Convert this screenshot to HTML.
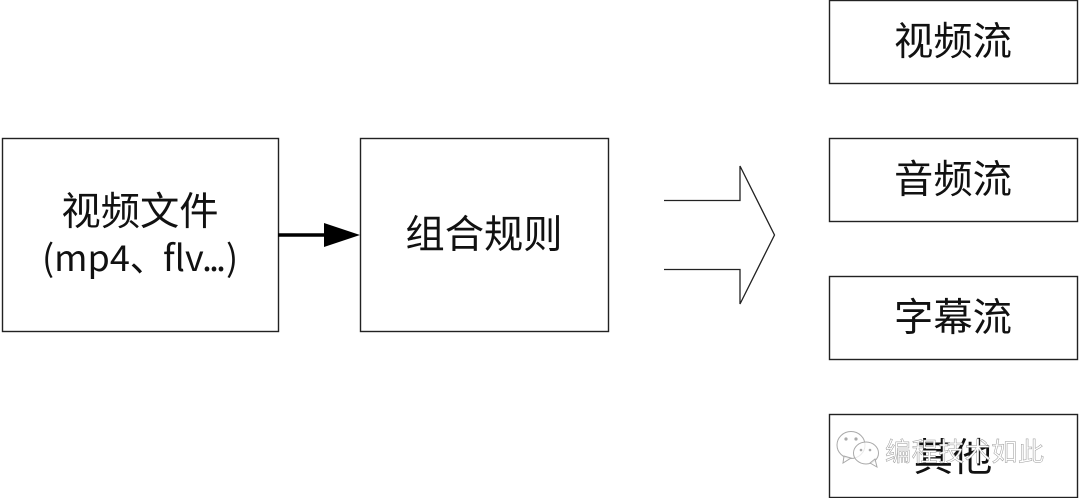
<!DOCTYPE html>
<html>
<head>
<meta charset="utf-8">
<style>
html,body{margin:0;padding:0;background:#fff;width:1080px;height:498px;overflow:hidden}
svg{display:block}
text{font-family:"Liberation Sans","Noto Sans CJK SC",sans-serif;fill:#111}
.n{font-family:"Noto Sans CJK SC",sans-serif}
</style>
</head>
<body>
<svg width="1080" height="498" viewBox="0 0 1080 498" xmlns="http://www.w3.org/2000/svg">
<rect width="1080" height="498" fill="#fff"/>
<g fill="#fff" stroke="#222" stroke-width="1.4">
<rect x="2.5" y="138.5" width="276" height="193"/>
<rect x="360.5" y="138.5" width="248" height="193"/>
<rect x="829.5" y="0.5" width="248" height="83"/>
<rect x="829.5" y="138.5" width="248" height="83"/>
<rect x="829.5" y="276.5" width="248" height="83"/>
<rect x="829.5" y="414.5" width="248" height="83"/>
</g>
<path d="M664 200.5H740V166L774.5 235L740 304V269.5H664" fill="none" stroke="#222" stroke-width="1.3"/>
<path d="M278 235H326" stroke="#000" stroke-width="3.6" fill="none"/>
<path d="M324 223L360 235L324 247Z" fill="#000"/>
<g font-size="39.3" text-anchor="middle">
<text x="140" y="225">视频文件</text>
<text x="484" y="248">组合规则</text>
<text x="953" y="55">视频流</text>
<text x="953" y="193">音频流</text>
<text x="953" y="331">字幕流</text>
<text x="953" y="471">其他</text>
</g>
<text class="n" y="271" font-size="36"><tspan x="42">(mp4、</tspan><tspan x="163">flv</tspan><tspan x="202" letter-spacing="-3">...</tspan><tspan x="226">)</tspan></text>
<g fill="#fff" fill-opacity=".75" stroke="#aaa" stroke-width="1">
<ellipse cx="851" cy="445" rx="14" ry="13.5"/>
<path d="M844 456L843 463L851 458Z"/>
<ellipse cx="866" cy="453" rx="12.5" ry="11"/>
<path d="M870 463L877 467L875 459Z"/>
</g>
<g fill="#aaa">
<circle cx="846" cy="439" r="1.6"/>
<circle cx="856" cy="439" r="1.6"/>
<circle cx="861" cy="450" r="1.3"/>
<circle cx="870" cy="450" r="1.3"/>
</g>
<text x="885" y="461" font-size="26" style="fill:#fff;stroke:#999;stroke-width:.5" textLength="159">编程技术如此</text>
</svg>
</body>
</html>
